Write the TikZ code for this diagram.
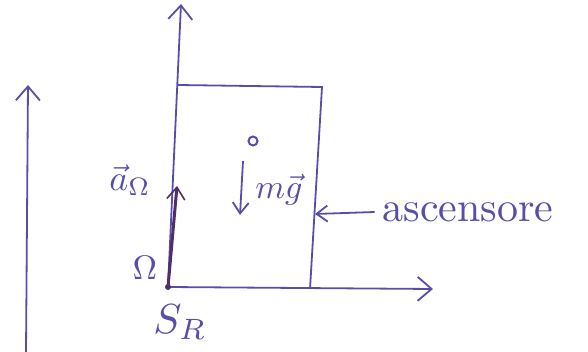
\documentclass[tikz,border=0pt]{standalone}
\usepackage{xcolor}
\usetikzlibrary{arrows.meta}

\definecolor{ink}{RGB}{88,78,170}
\definecolor{darkink}{RGB}{78,45,112}

\begin{document}
\begin{tikzpicture}[x=1pt, y=-1pt, color=ink, line width=1.8pt,
    axis/.style={-{Straight Barb[length=14pt, width=24pt]}},
    force/.style={-{Straight Barb[length=11pt, width=16pt]}},
    accel/.style={darkink, line width=3pt, -{Straight Barb[length=12pt, width=18pt, line width=1.6pt]}},
    mass/.style={circle, draw, fill=white, inner sep=0pt, minimum size=9pt, line width=2pt},
    tag/.style={inner sep=1pt}]

    \useasboundingbox (0,0) rectangle (588,352);

    % Points of the frame and of the lift
    \coordinate (O) at (168,287);
    \coordinate (ytop) at (181,4);
    \coordinate (xend) at (433,289);
    \coordinate (lbot) at (26,352);
    \coordinate (ltop) at (28,85);
    \coordinate (roofL) at (178,85);
    \coordinate (roofR) at (322,87);
    \coordinate (floorR) at (310,289);
    \coordinate (wall) at (315,214);
    \coordinate (aT) at (177,186);
    \coordinate (gS) at (243,161);
    \coordinate (gT) at (240,215);

    % Fixed axis
    \draw[axis] (lbot) -- (ltop);

    % Axes of S_R
    \draw[axis] (O) -- (ytop);
    \draw[axis] (O) -- (xend);

    % Lift
    \draw (roofL) -- (roofR) -- (floorR);

    % Mass and its weight
    \node[mass] (P) at (253,141) {};
    \draw[force] (gS) -- (gT);
    \node[tag, scale=3.4] (mg) at (279,190) {$m\vec g$};

    % Acceleration of the origin
    \draw[accel] (O) -- (aT);
    \fill[darkink] (O) circle (3pt);
    \node[tag, scale=3.6] (aO) at (130,180) {$\vec a_\Omega$};

    % Labels
    \node[tag, scale=3.4] (Om) at (145,268) {$\Omega$};
    \node[tag, scale=4.2] (SR) at (180,322) {$S_R$};
    \node[tag, scale=4.2] (lift) at (468,212) {ascensore};
    \draw[force] (lift.west) -- (wall);

\end{tikzpicture}
\end{document}
